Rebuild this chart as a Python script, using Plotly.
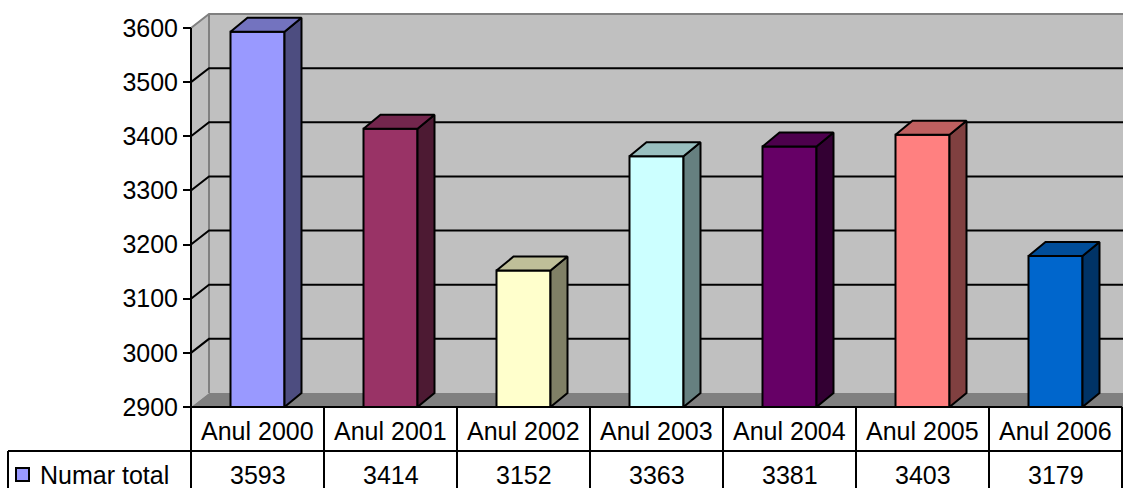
import plotly.graph_objects as go

# ---------------- data ----------------
categories = ["Anul 2000", "Anul 2001", "Anul 2002", "Anul 2003",
              "Anul 2004", "Anul 2005", "Anul 2006"]
values = [3593, 3414, 3152, 3363, 3381, 3403, 3179]
series_name = "Numar total"
y_ticks = [2900, 3000, 3100, 3200, 3300, 3400, 3500, 3600]

front_colors = ["#9999FF", "#993366", "#FFFFCC", "#CCFFFF", "#660066", "#FF8080", "#0066CC"]
side_colors = ["#4D4D80", "#4D1A33", "#808066", "#668080", "#330033", "#804040", "#003366"]
top_colors = ["#7373BF", "#73264D", "#BFBF99", "#99BFBF", "#4D004D", "#BF6060", "#004D99"]

# ---------------- geometry (pixels -> data) ----------------
W, H = 1123, 488
AX_PX = 191        # front y-axis pixel x
CAT_PX = 133       # pixels per category
BASE_PY = 407      # pixel y of the axis minimum
UNIT_PX = (407 - 28) / 700.0   # pixels per value unit
FONT = "Liberation Sans, Arial, sans-serif"

y_base, y_top = y_ticks[0], y_ticks[-1]


def X(px):
    return -0.5 + (px - AX_PX) / CAT_PX


def Y(py):
    return y_base + (BASE_PY - py) / UNIT_PX


def dX(p):
    return p / CAT_PX


def dY(p):
    return p / UNIT_PX


WDX, WDY = dX(18), dY(14)     # wall depth
BDX, BDY = dX(17), dY(14)     # bar depth
HALF = dX(27)                 # half bar width
XR = X(W) + 0.2               # beyond right edge

shapes = []


def path(pts, **kw):
    d = "M " + " L ".join(f"{a},{b}" for a, b in pts)
    if kw.pop("closed", False):
        d += " Z"
    s = dict(type="path", path=d, xref="x", yref="y", layer="below")
    s.update(kw)
    shapes.append(s)


x0 = X(AX_PX)
# back wall
path([(x0 + WDX, y_base + WDY), (x0 + WDX, y_top + WDY), (XR, y_top + WDY), (XR, y_base + WDY)],
     closed=True, fillcolor="#C0C0C0", line=dict(width=0))
# side wall
path([(x0, y_base), (x0 + WDX, y_base + WDY), (x0 + WDX, y_top + WDY), (x0, y_top)],
     closed=True, fillcolor="#C0C0C0", line=dict(width=0))
# floor
path([(x0, y_base), (x0 + WDX, y_base + WDY), (XR, y_base + WDY), (XR, y_base)],
     closed=True, fillcolor="#808080", line=dict(width=0))
# wall edges (gray)
path([(x0 + WDX, y_base + WDY), (x0 + WDX, y_top + WDY)], line=dict(color="#808080", width=2))
# gridlines
for v in y_ticks[1:]:
    col = "#808080" if v == y_top else "black"
    path([(x0, v), (x0 + WDX, v + WDY), (XR, v + WDY)], line=dict(color=col, width=2))

# axis line
path([(x0, y_base), (x0, y_top)], line=dict(color="black", width=2))

# ---------------- data table lines ----------------
n = len(categories)
x_right = X(AX_PX + n * CAT_PX)
y_row1 = Y(407)
y_row2 = Y(451)
y_bot = Y(H) - 5
path([(x0, y_row1), (x_right, y_row1)], line=dict(color="black", width=2))
path([(X(8), y_row2), (x_right, y_row2)], line=dict(color="black", width=2))
for k in range(n + 1):
    path([(k - 0.5, y_row1), (k - 0.5, y_bot)], line=dict(color="black", width=2))
path([(X(8), y_row2), (X(8), y_bot)], line=dict(color="black", width=2))
# legend key square
shapes.append(dict(type="rect", xref="x", yref="y", layer="above",
                   x0=X(16), x1=X(29), y0=Y(481), y1=Y(468),
                   fillcolor=front_colors[0], line=dict(color="black", width=2)))

# ---------------- traces ----------------
fig = go.Figure()
idx = list(range(n))
fig.add_trace(go.Bar(
    x=idx, y=[v - y_base for v in values], base=y_base, width=2 * HALF,
    marker=dict(color=front_colors, line=dict(color="black", width=2)),
    name=series_name, hoverinfo="skip"))

for i, v in enumerate(values):
    xl, xr = i - HALF, i + HALF
    fig.add_trace(go.Scatter(
        x=[xr, xr + BDX, xr + BDX, xr, xr],
        y=[y_base, y_base + BDY, v + BDY, v, y_base],
        fill="toself", fillcolor=side_colors[i], mode="lines",
        line=dict(color="black", width=2), hoverinfo="skip"))
    fig.add_trace(go.Scatter(
        x=[xl, xl + BDX, xr + BDX, xr, xl],
        y=[v, v + BDY, v + BDY, v, v],
        fill="toself", fillcolor=top_colors[i], mode="lines",
        line=dict(color="black", width=2), hoverinfo="skip"))

annotations = []
for i in range(n):
    annotations.append(dict(x=i, y=Y(431), xref="x", yref="y", text=categories[i],
                            showarrow=False, font=dict(family=FONT, size=25, color="black"),
                            xanchor="center", yanchor="middle"))
    annotations.append(dict(x=i, y=Y(475), xref="x", yref="y", text=str(values[i]),
                            showarrow=False, font=dict(family=FONT, size=25, color="black"),
                            xanchor="center", yanchor="middle"))
annotations.append(dict(x=X(38), y=Y(475), xref="x", yref="y", text=series_name,
                        showarrow=False, font=dict(family=FONT, size=25, color="black"),
                        xanchor="left", yanchor="middle"))

fig.update_layout(
    width=W, height=H,
    margin=dict(l=0, r=0, t=0, b=0),
    paper_bgcolor="white", plot_bgcolor="white",
    showlegend=False,
    shapes=shapes, annotations=annotations,
    xaxis=dict(range=[X(0), X(W)], visible=False, fixedrange=True),
    yaxis=dict(range=[Y(H), Y(0)], anchor="free", position=AX_PX / W,
               tickvals=y_ticks, ticks="outside", ticklen=8, tickwidth=2,
               tickcolor="black", showline=False, showgrid=False, zeroline=False,
               tickfont=dict(family=FONT, size=25, color="black"),
               fixedrange=True),
)

fig.write_html("out.html", config={"displayModeBar": False},
               post_script="document.body.style.margin='0';document.body.style.padding='0';"
                           "document.body.style.overflow='hidden';")
